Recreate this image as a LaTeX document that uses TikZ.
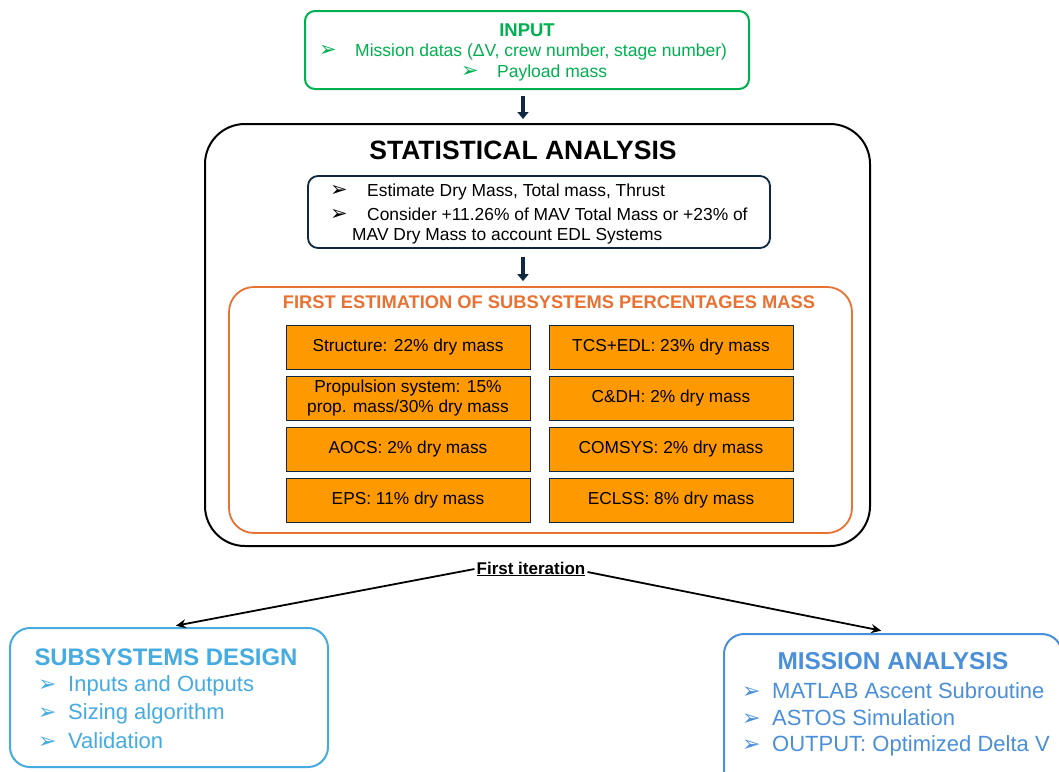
\documentclass[tikz,border=0pt]{standalone}
\usepackage{fontspec}
\setmainfont{Liberation Sans}
\newfontfamily\dv{DejaVu Sans}
\usetikzlibrary{arrows.meta}
\definecolor{ingreen}{HTML}{00B050}
\definecolor{navy}{HTML}{0E2841}
\definecolor{orline}{HTML}{E97132}
\definecolor{orfill}{HTML}{FF9900}
\definecolor{sblue}{HTML}{45ABE0}
\definecolor{mblue}{HTML}{4A8FD9}
\newcommand\bul[1][1.3]{\scalebox{#1}{\dv ➢}}
\newcommand\fsz[2]{\fontsize{#1}{#2}\selectfont}
\begin{document}
\begin{tikzpicture}[x=1pt,y=-1pt,
  cell/.style={draw=navy, fill=orfill, line width=0.9pt, minimum width=244pt, minimum height=44pt,
    inner sep=2pt, align=center, font=\fsz{17.3}{20}},
  bigarrow/.style={draw=navy, line width=3.5pt, -{Triangle[length=7pt,width=11pt]}},
  thinarrow/.style={draw=black, line width=1.8pt, -{Stealth[length=10pt,width=9pt]}},
  txt/.style={inner sep=0pt, anchor=west}
]
\useasboundingbox (0,0) rectangle (1059,771);
\fill[white] (0,0) rectangle (1059,771);

% INPUT
\node[draw=ingreen, line width=2pt, rounded corners=10pt, minimum width=444pt, minimum height=78pt] (input) at (527,50) {};
\node[text=ingreen, font=\bfseries\fsz{18.5}{22}, inner sep=0pt] (inputtitle) at (527,30) {INPUT};
\node[txt, text=ingreen, font=\fsz{17.5}{20}] (in1) at (319,52) {\makebox[36pt][l]{\bul[1.2]}Mission datas (ΔV, crew number, stage number)};
\node[txt, text=ingreen, font=\fsz{17.5}{20}] (in2) at (461,73) {\makebox[36pt][l]{\bul[1.2]}Payload mass};

% STATISTICAL ANALYSIS
\node[draw=black, line width=2pt, rounded corners=40pt, minimum width=665pt, minimum height=422pt] (stat) at (537.5,335) {};
\node[font=\bfseries\fsz{26.5}{30}, inner sep=0pt] (stattitle) at (523,150) {STATISTICAL ANALYSIS};

\node[draw=navy, line width=1.8pt, rounded corners=10pt, minimum width=462pt, minimum height=72pt] (est) at (539,212) {};
\node[txt, font=\fsz{17.4}{20}] (e1) at (330,192) {\makebox[37pt][l]{\bul[1.2]}Estimate Dry Mass, Total mass, Thrust};
\node[txt, font=\fsz{17.4}{20}] (e2) at (330,214) {\makebox[37pt][l]{\bul[1.2]}Consider +11.26\% of MAV Total Mass or +23\% of};
\node[txt, font=\fsz{17.4}{20}] (e3) at (352,236) {MAV Dry Mass to account EDL Systems};

% ORANGE
\node[draw=orline, line width=1.8pt, rounded corners=25pt, minimum width=623pt, minimum height=246pt] (sub) at (540.5,410) {};
\node[text=orline, font=\bfseries\fsz{18.3}{21}, inner sep=0pt] (subtitle) at (549,302) {FIRST ESTIMATION OF SUBSYSTEMS PERCENTAGES MASS};

\node[cell] (c11) at (408,347) {Structure: 22\% dry mass};
\node[cell] (c21) at (408,398) {Propulsion system: 15\%\\prop. mass/30\% dry mass};
\node[cell] (c31) at (408,449) {AOCS: 2\% dry mass};
\node[cell] (c41) at (408,500) {EPS: 11\% dry mass};
\node[cell] (c12) at (671,347) {TCS+EDL: 23\% dry mass};
\node[cell] (c22) at (671,398) {C\&DH: 2\% dry mass};
\node[cell] (c32) at (671,449) {COMSYS: 2\% dry mass};
\node[cell] (c42) at (671,500) {ECLSS: 8\% dry mass};

% arrows top
\draw[bigarrow, shorten <=6pt, shorten >=4pt] (input.south -| stattitle) -- (stat.north -| stattitle);
\draw[bigarrow, shorten <=8pt, shorten >=5pt] (est.south -| stattitle) -- (sub.north -| stattitle);

% First iteration
\node[font=\bfseries\fsz{17}{20}, inner sep=2pt] (iter) at (531,569) {\underline{First iteration}};

% SUBSYSTEMS DESIGN
\node[draw=sblue, line width=2pt, rounded corners=20pt, minimum width=318pt, minimum height=139pt] (sd) at (169,697.5) {};
\node[text=sblue, font=\bfseries\fsz{23.9}{28}, inner sep=0pt] (sdtitle) at (166,657) {SUBSYSTEMS DESIGN};
\node[txt, text=sblue, font=\fsz{22}{24}] (sd1) at (38,686) {\makebox[30pt][l]{\bul[1.0]}Inputs and Outputs};
\node[txt, text=sblue, font=\fsz{22}{24}] (sd2) at (38,714) {\makebox[30pt][l]{\bul[1.0]}Sizing algorithm};
\node[txt, text=sblue, font=\fsz{22}{24}] (sd3) at (38,741) {\makebox[30pt][l]{\bul[1.0]}Validation};

% MISSION ANALYSIS
\node[draw=mblue, line width=2pt, rounded corners=20pt, minimum width=338pt, minimum height=156pt] (ma) at (893,712) {};
\node[text=mblue, font=\bfseries\fsz{24.4}{28}, inner sep=0pt] (matitle) at (893,661) {MISSION ANALYSIS};
\node[txt, text=mblue, font=\fsz{22}{24}] (ma1) at (742,691) {\makebox[30pt][l]{\bul[1.0]}MATLAB Ascent Subroutine};
\node[txt, text=mblue, font=\fsz{22}{24}] (ma2) at (742,718) {\makebox[30pt][l]{\bul[1.0]}ASTOS Simulation};
\node[txt, text=mblue, font=\fsz{22}{24}] (ma3) at (742,746) {\makebox[30pt][l]{\bul[1.0]}OUTPUT: Optimized Delta V};

\draw[thinarrow, shorten >=7pt] (iter.west) -- (sd.north);
\draw[thinarrow, shorten >=12pt] ([yshift=-3pt]iter.east) -- (ma.north);
\end{tikzpicture}
\end{document}
